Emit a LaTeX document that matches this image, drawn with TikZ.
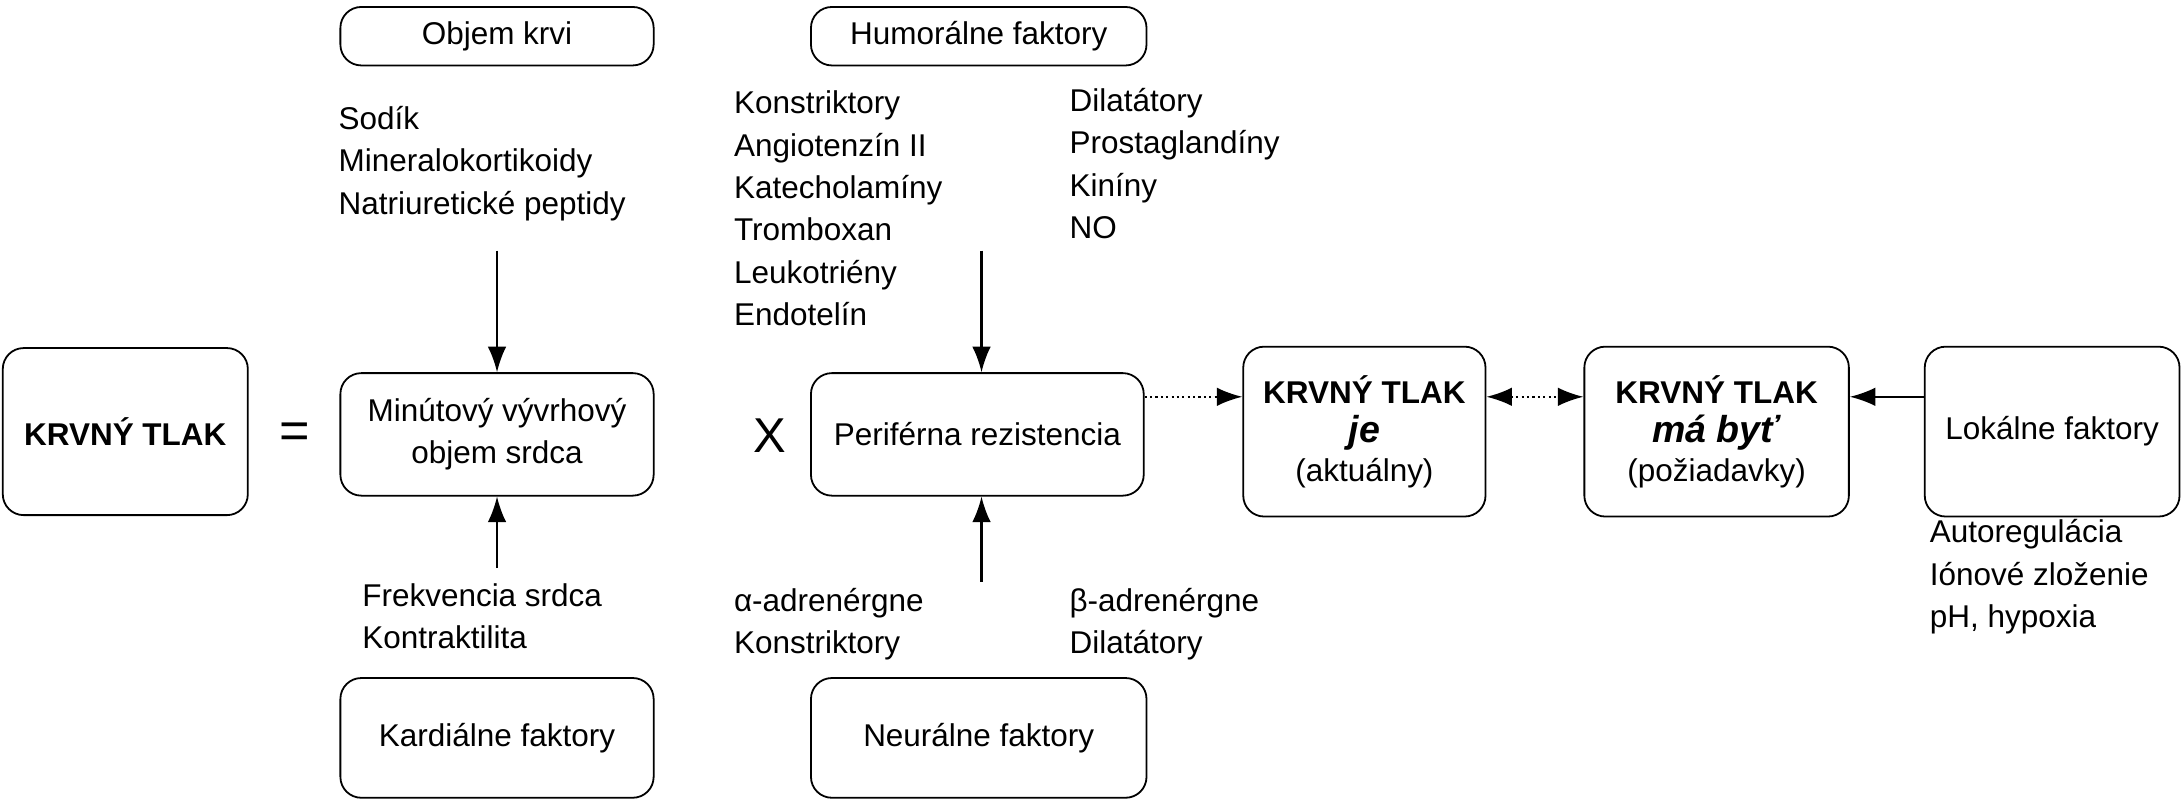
\documentclass[tikz,border=0pt]{standalone}
\usepackage{fontspec}
\setmainfont{Liberation Sans}
\usetikzlibrary{arrows.meta, positioning, calc}

\begin{document}
\begin{tikzpicture}[
    x=0.03cm, y=-0.03cm,
    font=\fontsize{19.3}{26}\selectfont,
    >={Latex[length=0.55cm, width=0.4cm]},
    block/.style={
        draw,
        line width=1.1pt,
        rounded corners=0.45cm,
        align=center,
        inner sep=0pt
    },
    list/.style={
        anchor=north west,
        align=left,
        inner sep=0pt
    },
    link/.style={->, line width=1.3pt},
    dotlink/.style={link, dotted}
]
\useasboundingbox (0,0) rectangle (1568,575);

%--- Main equation row ---
\node[block, minimum width=5.28cm, minimum height=3.6cm] (bp) at (90,310)
{\textbf{KRVNÝ TLAK}};
\node (eq) at (212,313) {\fontsize{32}{32}\selectfont =};
\node[block, minimum width=6.75cm, minimum height=2.64cm] (cardiac_output) at (357,312)
{Minútový vývrhový\\objem srdca};
\node (times) at (553,313) {\fontsize{30}{30}\selectfont X};
\node[block, minimum width=7.17cm, minimum height=2.64cm] (resistance) at (702,312)
{Periférna rezistencia};
\node[block, minimum width=5.22cm, minimum height=3.66cm] (bp_actual) at (980,310)
{\textbf{KRVNÝ TLAK}\\[-2pt]{\fontsize{23}{24}\selectfont\textbf{\textit{je}}}\\[-2pt](aktuálny)};
\node[block, minimum width=5.7cm, minimum height=3.66cm] (bp_target) at (1233,310)
{\textbf{KRVNÝ TLAK}\\[-2pt]{\fontsize{23}{24}\selectfont\textbf{\textit{má byť}}}\\[-2pt](požiadavky)};
\node[block, minimum width=5.49cm, minimum height=3.66cm] (local) at (1474,310)
{Lokálne faktory};

%--- Factor groups ---
\node[block, minimum width=6.75cm, minimum height=1.26cm] (volume) at (357,26) {Objem krvi};
\node[block, minimum width=7.23cm, minimum height=1.26cm] (humoral) at (703,26) {Humorálne faktory};
\node[block, minimum width=6.75cm, minimum height=2.58cm] (cardiac) at (357,530) {Kardiálne faktory};
\node[block, minimum width=7.23cm, minimum height=2.58cm] (neural) at (703,530) {Neurálne faktory};

%--- Lists ---
\node[list] (volume_list) at (243,76) {Sodík\\Mineralokortikoidy\\Natriuretické peptidy};
\node[list] (constrictors) at (527,65) {Konstriktory\\Angiotenzín II\\Katecholamíny\\Tromboxan\\Leukotriény\\Endotelín};
\node[list] (dilators) at (768,63) {Dilatátory\\Prostaglandíny\\Kiníny\\NO};
\node[list] (cardiac_list) at (260,419) {Frekvencia srdca\\Kontraktilita};
\node[list] (alpha) at (527,422) {α-adrenérgne\\Konstriktory};
\node[list] (beta) at (768,422) {β-adrenérgne\\Dilatátory};
\node[list] (local_list) at (1386,373) {Autoregulácia\\Iónové zloženie\\pH, hypoxia};

%--- Arrow tails ---
\coordinate (volume_in) at (357,180);
\coordinate (cardiac_in) at (357,408);
\coordinate (humoral_in) at (705,180);
\coordinate (neural_in) at (705,418);

%--- Arrows ---
\draw[link] (volume_in) -- (cardiac_output.north);
\draw[link] (cardiac_in) -- (cardiac_output.south);
\draw[link] (humoral_in) -- (humoral_in |- resistance.north);
\draw[link] (neural_in) -- (neural_in |- resistance.south);
\draw[dotlink] (resistance.east |- 0,285) -- (bp_actual.west |- 0,285);
\draw[dotlink, <->] (bp_actual.east |- 0,285) -- (bp_target.west |- 0,285);
\draw[link] (local.west |- 0,285) -- (bp_target.east |- 0,285);

\end{tikzpicture}
\end{document}
